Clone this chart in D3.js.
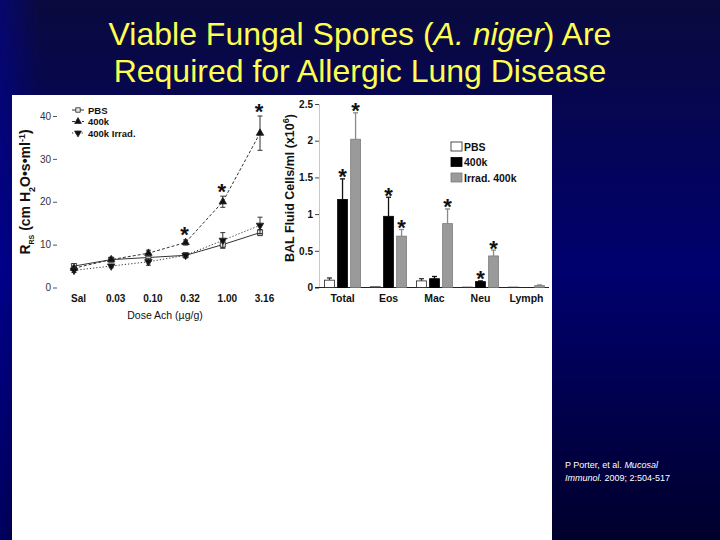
<!DOCTYPE html>
<meta charset="utf-8">
<script src="https://d3js.org/d3.v7.min.js"></script>
<style>
  body { margin: 0; background: #000040; }
  svg { display: block; font-family: "Liberation Sans", Arial, sans-serif; }
</style>
<body>
<div id="slide"></div>
<script>

// airway resistance after methacholine challenge
var doses = ["Sal", "0.03", "0.10", "0.32", "1.00", "3.16"];
var pbsR = [5.0, 6.5, 7.0, 7.5, 10.0, 12.8];
var pbsErr = [0.5, 0.4, 0.5, 0.5, 0.8, 0.7];
var k400R = [4.5, 6.5, 8.0, 10.5, 20.0, 36.0];
var k400Err = [0.5, 0.5, 0.7, 0.6, 1.3, 4.0];
var irrR = [4.0, 5.0, 6.0, 7.5, 11.0, 14.5];
var irrErr = [0.5, 0.4, 0.8, 0.5, 1.8, 1.9];
var k400RSig = [false, false, false, true, true, true];
var rTicks = [0, 10, 20, 30, 40];

// BAL fluid cells
var cellTypes = ["Total", "Eos", "Mac", "Neu", "Lymph"];
var pbsCells = [0.10, 0.01, 0.09, 0.005, 0.005];
var pbsCellsErr = [0.03, 0, 0.03, 0, 0];
var k400Cells = [1.20, 0.97, 0.12, 0.08, 0];
var k400CellsErr = [0.28, 0.26, 0.03, 0.01, 0];
var irrCells = [2.02, 0.70, 0.87, 0.43, 0.025];
var irrCellsErr = [0.36, 0.09, 0.20, 0.08, 0.01];
var k400CellsSig = [true, true, false, true, false];
var irrCellsSig = [true, true, true, true, false];
var cellTicks = [0, 0.5, 1, 1.5, 2, 2.5];

var W = 720, H = 540;
var svg = d3.select("#slide").append("svg")
    .attr("width", W).attr("height", H);

// background
var defs = svg.append("defs");
var bg = defs.append("linearGradient").attr("id", "bg")
    .attr("x1", 0).attr("y1", 0).attr("x2", 0).attr("y2", 1);
bg.append("stop").attr("offset", "0%").attr("stop-color", "#0a0a3e");
bg.append("stop").attr("offset", "50%").attr("stop-color", "#00006f");
bg.append("stop").attr("offset", "100%").attr("stop-color", "#00002c");
var side = defs.append("linearGradient").attr("id", "side")
    .attr("x1", 0).attr("y1", 0).attr("x2", 1).attr("y2", 0);
side.append("stop").attr("offset", "0%").attr("stop-color", "#0000c0").attr("stop-opacity", 0.35);
side.append("stop").attr("offset", "100%").attr("stop-color", "#0000c0").attr("stop-opacity", 0);

svg.append("rect").attr("width", W).attr("height", H).attr("fill", "url(#bg)");
svg.append("rect").attr("width", 40).attr("height", H).attr("fill", "url(#side)");

// title
var title = svg.append("text")
    .attr("text-anchor", "middle")
    .attr("fill", "#ffff50")
    .style("font-size", "32px");
var t1 = title.append("tspan").attr("x", 360).attr("y", 45);
t1.append("tspan").text("Viable Fungal Spores (");
t1.append("tspan").style("font-style", "italic").text("A. niger");
t1.append("tspan").text(") Are");
title.append("tspan").attr("x", 360).attr("y", 82).text("Required for Allergic Lung Disease");

// white figure panel
svg.append("rect")
    .attr("x", 12).attr("y", 95).attr("width", 540).attr("height", 445)
    .attr("fill", "#ffffff");

// ---------- left: resistance line chart ----------
var x = d3.scalePoint().domain(doses).range([74, 260]);
var y = d3.scaleLinear().domain([0, 40]).range([287.5, 116]);

var yAx = svg.append("g")
    .attr("transform", "translate(57,0)")
    .call(d3.axisLeft(y).tickValues(rTicks).tickSize(4).tickPadding(2));
yAx.select(".domain").remove();
yAx.selectAll("line").attr("stroke", "#555");
yAx.selectAll("text").style("font-size", "10px").attr("fill", "#333");

var xAx = svg.append("g")
    .attr("transform", "translate(4,287.5)")
    .call(d3.axisBottom(x).tickSize(0).tickPadding(7));
xAx.select(".domain").remove();
xAx.selectAll("text").style("font-size", "10px").style("font-weight", "bold").attr("fill", "#111");

svg.append("text")
    .attr("x", 165).attr("y", 319)
    .attr("text-anchor", "middle")
    .style("font-size", "10.5px")
    .attr("fill", "#111")
    .text("Dose Ach (\u00b5g/g)");

var yTitle = svg.append("text")
    .attr("transform", "translate(30,192) rotate(-90)")
    .attr("text-anchor", "middle")
    .style("font-size", "14px").style("font-weight", "bold")
    .attr("fill", "#111");
yTitle.append("tspan").text("R");
yTitle.append("tspan").attr("baseline-shift", "sub").style("font-size", "7px").text("RS");
yTitle.append("tspan").text(" (cm H");
yTitle.append("tspan").attr("baseline-shift", "sub").style("font-size", "9px").text("2");
yTitle.append("tspan").text("O\u2022s\u2022ml");
yTitle.append("tspan").attr("baseline-shift", "super").style("font-size", "9px").text("-1");
yTitle.append("tspan").text(")");

var series = [
  {name: "PBS", vals: pbsR, err: pbsErr, dash: null, sym: d3.symbolSquare, fill: "#e6e6e6"},
  {name: "400k", vals: k400R, err: k400Err, dash: "3,2", sym: d3.symbolTriangle, fill: "#111", rot: 0},
  {name: "400k Irrad.", vals: irrR, err: irrErr, dash: "1.2,2", sym: d3.symbolTriangle, fill: "#111", rot: 180}
];

var line = d3.line()
    .x(function(d, i) { return x(doses[i]); })
    .y(function(d) { return y(d); });

series.forEach(function(s) {
  svg.append("path")
      .attr("d", line(s.vals))
      .attr("fill", "none")
      .attr("stroke", "#333")
      .attr("stroke-width", 1)
      .attr("stroke-dasharray", s.dash);

  var eb = svg.append("g").attr("stroke", "#333").attr("stroke-width", 1);
  s.vals.forEach(function(v, i) {
    var cx = x(doses[i]);
    eb.append("line").attr("x1", cx).attr("x2", cx)
        .attr("y1", y(v - s.err[i])).attr("y2", y(v + s.err[i]));
    eb.append("line").attr("x1", cx - 2.5).attr("x2", cx + 2.5)
        .attr("y1", y(v + s.err[i])).attr("y2", y(v + s.err[i]));
    eb.append("line").attr("x1", cx - 2.5).attr("x2", cx + 2.5)
        .attr("y1", y(v - s.err[i])).attr("y2", y(v - s.err[i]));
  });

  svg.selectAll(null)
    .data(s.vals)
    .enter()
    .append("path")
      .attr("d", d3.symbol().type(s.sym).size(s.sym === d3.symbolSquare ? 26 : 24))
      .attr("transform", function(d, i) {
        return "translate(" + x(doses[i]) + "," + y(d) + ") rotate(" + (s.rot || 0) + ")";
      })
      .attr("fill", s.fill)
      .attr("stroke", "#222")
      .attr("stroke-width", 0.8);
});

// significance stars (400k vs PBS)
var starsR = doses.map(function(d, i) {
  return {dose: d, top: k400R[i] + k400Err[i], sig: k400RSig[i]};
}).filter(function(d) { return d.sig; });

svg.selectAll(null)
  .data(starsR)
  .enter()
  .append("text")
    .attr("x", function(d) { return x(d.dose) - 1; })
    .attr("y", function(d) { return y(d.top) + 2.5; })
    .attr("text-anchor", "middle")
    .style("font-size", "22px").style("font-weight", "bold")
    .attr("fill", "#111")
    .text("*");

// legend
var leg = svg.append("g").attr("transform", "translate(72,110)");
series.forEach(function(s, i) {
  var g = leg.append("g").attr("transform", "translate(0," + (i * 11.5) + ")");
  g.append("line").attr("x1", 0).attr("x2", 12).attr("y1", 0).attr("y2", 0)
      .attr("stroke", "#333").attr("stroke-dasharray", s.dash);
  g.append("path")
      .attr("d", d3.symbol().type(s.sym).size(20))
      .attr("transform", "translate(6,0) rotate(" + (s.rot || 0) + ")")
      .attr("fill", s.fill).attr("stroke", "#222").attr("stroke-width", 0.8);
  g.append("text").attr("x", 16).attr("y", 3.5)
      .style("font-size", "9.5px").style("font-weight", "bold")
      .attr("fill", "#111")
      .text(s.name);
});

// ---------- right: BAL cell bar chart ----------
var groups = ["PBS", "400k", "Irrad. 400k"];
var x0 = d3.scaleBand().domain(cellTypes).range([320, 549]).paddingInner(0.22).paddingOuter(0.1);
var x1 = d3.scaleBand().domain(groups).range([0, x0.bandwidth()]).paddingInner(0.25);
var y2 = d3.scaleLinear().domain([0, 2.5]).range([287.5, 104]);

var y2Ax = svg.append("g")
    .attr("transform", "translate(319,0)")
    .call(d3.axisLeft(y2).tickValues(cellTicks).tickSize(4).tickPadding(2)
      .tickFormat(d3.format("~g")));
y2Ax.select(".domain").attr("stroke", "#c8c8c8");
y2Ax.selectAll("line").attr("stroke", "#444");
y2Ax.selectAll("text").style("font-size", "10px").style("font-weight", "bold").attr("fill", "#111");

var x2Ax = svg.append("g")
    .attr("transform", "translate(0,287.5)")
    .call(d3.axisBottom(x0).tickSize(0).tickPadding(7));
x2Ax.select(".domain").attr("stroke", "#222").attr("d", "M315,0H549");
x2Ax.selectAll("text").style("font-size", "10.5px").style("font-weight", "bold").attr("fill", "#111");

var y2Title = svg.append("text")
    .attr("transform", "translate(294,188) rotate(-90)")
    .attr("text-anchor", "middle")
    .style("font-size", "12.5px").style("font-weight", "bold")
    .attr("fill", "#111");
y2Title.append("tspan").text("BAL Fluid Cells/ml (x10");
y2Title.append("tspan").attr("baseline-shift", "super").style("font-size", "9px").text("6");
y2Title.append("tspan").text(")");

var bars = [
  {name: "PBS", vals: pbsCells, err: pbsCellsErr, fill: "#ffffff", stroke: "#222", ebar: "#333", sig: null},
  {name: "400k", vals: k400Cells, err: k400CellsErr, fill: "#000000", stroke: "#000", ebar: "#111", sig: k400CellsSig},
  {name: "Irrad. 400k", vals: irrCells, err: irrCellsErr, fill: "#9a9a9a", stroke: "#7a7a7a", ebar: "#8a8a8a", sig: irrCellsSig}
];

bars.forEach(function(b) {
  var rows = cellTypes.map(function(c, i) {
    return {cell: c, v: b.vals[i], e: b.err[i], sig: b.sig ? b.sig[i] : false};
  });
  var bx = function(d) { return x0(d.cell) + x1(b.name); };
  var cx = function(d) { return bx(d) + x1.bandwidth() / 2; };

  var withErr = rows.filter(function(d) { return d.e > 0; });
  svg.selectAll(null).data(withErr).enter().append("line")
      .attr("x1", cx).attr("x2", cx)
      .attr("y1", function(d) { return y2(d.v); })
      .attr("y2", function(d) { return y2(d.v + d.e); })
      .attr("stroke", b.ebar).attr("stroke-width", 1.3);
  svg.selectAll(null).data(withErr).enter().append("line")
      .attr("x1", function(d) { return cx(d) - 2.5; })
      .attr("x2", function(d) { return cx(d) + 2.5; })
      .attr("y1", function(d) { return y2(d.v + d.e); })
      .attr("y2", function(d) { return y2(d.v + d.e); })
      .attr("stroke", b.ebar).attr("stroke-width", 1.3);

  svg.selectAll(null)
    .data(rows.filter(function(d) { return d.v > 0; }))
    .enter()
    .append("rect")
      .attr("x", bx)
      .attr("y", function(d) { return y2(d.v); })
      .attr("width", x1.bandwidth())
      .attr("height", function(d) { return y2(0) - y2(d.v); })
      .attr("fill", b.fill)
      .attr("stroke", b.stroke)
      .attr("stroke-width", 0.8);

  svg.selectAll(null)
    .data(rows.filter(function(d) { return d.sig; }))
    .enter()
    .append("text")
      .attr("x", cx)
      .attr("y", function(d) { return y2(d.v + d.e) + 5.5; })
      .attr("text-anchor", "middle")
      .style("font-size", "22px").style("font-weight", "bold")
      .attr("fill", "#111")
      .text("*");
});

// legend
var leg2 = svg.append("g").attr("transform", "translate(451,142)");
bars.forEach(function(b, i) {
  var g = leg2.append("g").attr("transform", "translate(0," + (i * 15.5) + ")");
  g.append("rect").attr("width", 11).attr("height", 9)
      .attr("fill", b.fill).attr("stroke", b.stroke).attr("stroke-width", 0.8);
  g.append("text").attr("x", 13).attr("y", 8.5)
      .style("font-size", "10.5px").style("font-weight", "bold")
      .attr("fill", "#111")
      .text(b.name);
});

// citation
var cite = svg.append("text")
    .attr("fill", "#ffffff")
    .style("font-size", "9px");
var c1 = cite.append("tspan").attr("x", 565).attr("y", 468);
c1.append("tspan").text("P Porter, et al. ");
c1.append("tspan").style("font-style", "italic").text("Mucosal");
var c2 = cite.append("tspan").attr("x", 565).attr("y", 481);
c2.append("tspan").style("font-style", "italic").text("Immunol.");
c2.append("tspan").text(" 2009; 2:504-517");

</script>
</body>
